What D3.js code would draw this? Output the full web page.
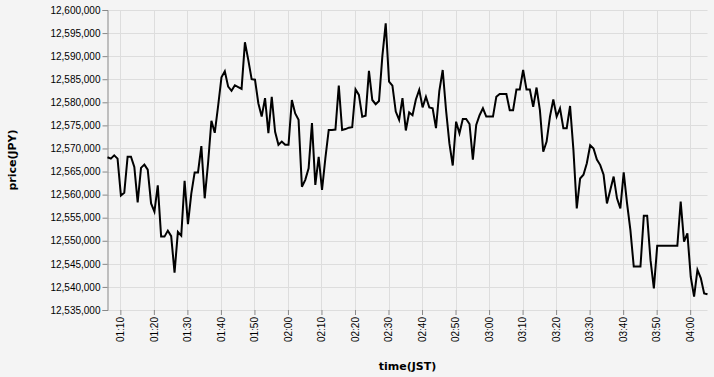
<!DOCTYPE html>
<html lang="en">
<head>
    <meta charset="UTF-8">
    <title>price(JPY) by time(JST)</title>
    <script src="https://cdn.jsdelivr.net/npm/d3@7"></script>
    <style>
        body {
            margin: 0;
            background: #f4f4f4;
        }
        svg {
            display: block;
            font-family: "DejaVu Sans", sans-serif;
        }
        .grid line {
            stroke: #ddd;
            stroke-width: 1px;
        }
    </style>
</head>
<body>
    <div id="chart"></div>
    <script>
        /*------------------------ data ------------------------*/
        // first sample time, one sample per minute after that
        const startTime = new Date(2021, 0, 1, 1, 6, 10);

        // price(JPY), one value per minute
        const prices = [
            12568100, 12567800, 12568500, 12567800, 12559800, 12560400, 12568200, 12568200, 12566000, 12558300,
            12565800, 12566500, 12565400, 12558100, 12556300, 12562000, 12550900, 12550900, 12552200, 12551000,
            12543100, 12551900, 12551100, 12563000, 12553600, 12560200, 12564800, 12564800, 12570500, 12559200,
            12566800, 12576000, 12573400, 12579200, 12585400, 12586700, 12583400, 12582500, 12583700, 12583300,
            12582900, 12593000, 12589200, 12585000, 12584900, 12579800, 12576900, 12580900, 12573300, 12581200,
            12573600, 12570800, 12571500, 12570800, 12570800, 12580500, 12577600, 12576200, 12561700, 12563200,
            12565700, 12575500, 12562100, 12568200, 12561000, 12567900, 12574000, 12574000, 12574100, 12583600,
            12574000, 12574200, 12574500, 12574600, 12582800, 12581600, 12576900, 12577100, 12586800, 12580500,
            12579600, 12580300, 12590000, 12597100, 12584500, 12583600, 12578000, 12576200, 12580900, 12573900,
            12577800, 12577200, 12580600, 12582700, 12578900, 12581200, 12578900, 12578700, 12574400, 12582500,
            12587000, 12578300, 12571100, 12566300, 12575800, 12573300, 12576400, 12576400, 12575300, 12567600,
            12575100, 12577200, 12578700, 12576900, 12576900, 12576900, 12581200, 12581800, 12581800, 12581800,
            12578300, 12578300, 12582800, 12582800, 12587000, 12582800, 12582800, 12579000, 12583200, 12578300,
            12569300, 12571500, 12576900, 12580600, 12576900, 12578700, 12574400, 12574400, 12579200, 12569700,
            12557000, 12563500, 12564300, 12566800, 12570700, 12570000, 12567600, 12566400, 12564300, 12558100,
            12561000, 12563900, 12559200, 12557000, 12564800, 12558100, 12552300, 12544400, 12544400, 12544400,
            12555400, 12555400, 12545800, 12539700, 12548900, 12548900, 12548900, 12548900, 12548900, 12548900,
            12548900, 12558500, 12549800, 12551600, 12542200, 12537900, 12543700, 12541900, 12538600, 12538400
        ];

        // y axis ticks
        const yDomain = [12535000, 12600000];
        const yTicks = [12535000, 12540000, 12545000, 12550000, 12555000, 12560000, 12565000,
            12570000, 12575000, 12580000, 12585000, 12590000, 12595000, 12600000];

        // x axis tick labels
        const xTickLabels = ["01:10", "01:20", "01:30", "01:40", "01:50", "02:00", "02:10", "02:20", "02:30",
            "02:40", "02:50", "03:00", "03:10", "03:20", "03:30", "03:40", "03:50", "04:00"];

        const xTitle = "time(JST)";
        const yTitle = "price(JPY)";

        /*------------------------ layout ------------------------*/
        const width = 714, height = 377;
        const margin = { top: 10, right: 6.5, bottom: 67, left: 107.5 };

        const data = prices.map((p, i) => ({
            time: d3.timeMinute.offset(startTime, i),
            price: p
        }));

        const parseHM = d3.timeParse("%H:%M");
        const xTickValues = xTickLabels.map(s => {
            const t = parseHM(s);
            return new Date(2021, 0, 1, t.getHours(), t.getMinutes());
        });

        const x = d3.scaleTime()
            .domain(d3.extent(data, d => d.time))
            .range([margin.left, width - margin.right]);

        const y = d3.scaleLinear()
            .domain(yDomain)
            .range([height - margin.bottom, margin.top]);

        const svg = d3.select("#chart").append("svg")
            .attr("width", width)
            .attr("height", height);

        /*------------------------ grid ------------------------*/
        svg.append("g")
            .attr("class", "grid")
            .selectAll("line.gx")
            .data(xTickValues)
            .join("line")
            .attr("x1", d => Math.round(x(d)) + 0.5)
            .attr("x2", d => Math.round(x(d)) + 0.5)
            .attr("y1", y.range()[1])
            .attr("y2", y.range()[0]);

        svg.append("g")
            .attr("class", "grid")
            .selectAll("line.gy")
            .data(yTicks)
            .join("line")
            .attr("x1", x.range()[0])
            .attr("x2", x.range()[1])
            .attr("y1", d => Math.round(y(d)) + 0.5)
            .attr("y2", d => Math.round(y(d)) + 0.5);

        /*------------------------ axes ------------------------*/
        const yAxis = svg.append("g")
            .attr("transform", `translate(${margin.left},0)`)
            .call(d3.axisLeft(y)
                .tickValues(yTicks)
                .tickFormat(d3.format(","))
                .tickSize(5)
                .tickPadding(2));
        yAxis.selectAll(".domain").attr("stroke", "#888");
        yAxis.selectAll(".tick line").attr("stroke", "#888");
        yAxis.selectAll("text")
            .attr("fill", "#000")
            .style("font-size", "10px");

        const xAxis = svg.append("g")
            .attr("transform", `translate(0,${height - margin.bottom})`)
            .call(d3.axisBottom(x)
                .tickValues(xTickValues)
                .tickFormat(d3.timeFormat("%H:%M"))
                .tickSize(5)
                .tickSizeOuter(0));
        xAxis.select(".domain").remove();
        xAxis.selectAll(".tick line").attr("stroke", "#888");
        xAxis.selectAll("text")
            .attr("fill", "#000")
            .style("font-size", "10px")
            .attr("transform", "rotate(-90)")
            .attr("x", -7)
            .attr("y", 0)
            .attr("dy", "0.32em")
            .attr("text-anchor", "end");

        /*------------------------ line ------------------------*/
        const line = d3.line()
            .x(d => x(d.time))
            .y(d => y(d.price));

        svg.append("path")
            .datum(data)
            .attr("fill", "none")
            .attr("stroke", "#000")
            .attr("stroke-width", 2)
            .attr("d", line);

        /*------------------------ titles ------------------------*/
        svg.append("text")
            .attr("x", (x.range()[0] + x.range()[1]) / 2)
            .attr("y", 369.5)
            .attr("text-anchor", "middle")
            .style("font-size", "11px")
            .style("font-weight", "bold")
            .text(xTitle);

        svg.append("text")
            .attr("transform", `translate(15.5,${(y.range()[0] + y.range()[1]) / 2}) rotate(-90)`)
            .attr("text-anchor", "middle")
            .style("font-size", "11px")
            .style("font-weight", "bold")
            .text(yTitle);
    </script>
</body>
</html>
